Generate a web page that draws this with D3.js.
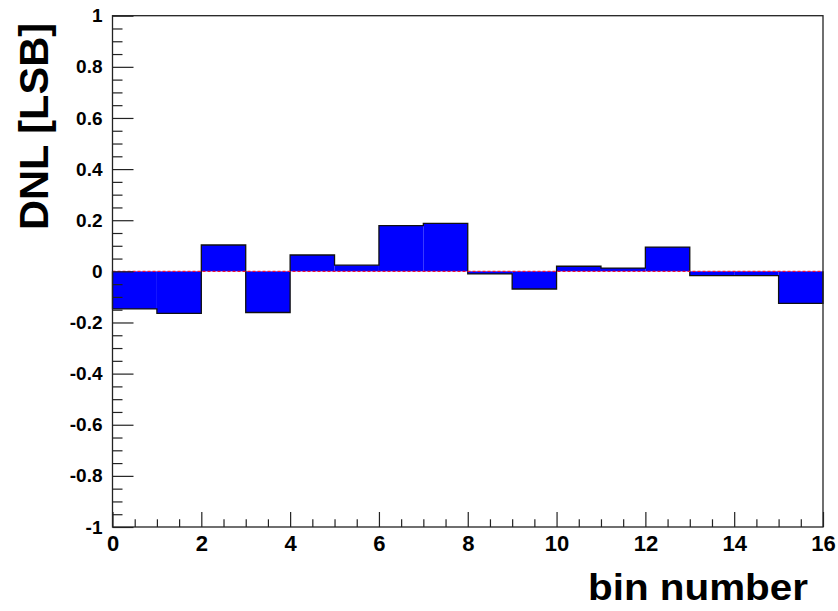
<!DOCTYPE html>
<html>
<head>
<meta charset="utf-8">
<script src="https://cdn.jsdelivr.net/npm/d3@7"></script>
<style>
  body { margin: 0; background: #fff; }
  svg { display: block; font-family: "Liberation Sans", Arial, sans-serif; }
</style>
</head>
<body>
<script>
// histogram bins (bin number) and DNL per bin
var binEdges = [0, 1, 2, 3, 4, 5, 6, 7, 8, 9, 10, 11, 12, 13, 14, 15, 16];
var dnl = [-0.147, -0.164, 0.103, -0.161, 0.064, 0.024, 0.179, 0.188,
           -0.010, -0.069, 0.020, 0.013, 0.095, -0.017, -0.017, -0.125];
var xMajor = [0, 2, 4, 6, 8, 10, 12, 14, 16];
var yMajor = [-1, -0.8, -0.6, -0.4, -0.2, 0, 0.2, 0.4, 0.6, 0.8, 1];
var xLabel = "bin number";
var yLabel = "DNL [LSB]";

var width = 838, height = 611;
var padL = 112.5, padR = 823, padT = 15.7, padB = 527;

var svg = d3.select("body").append("svg")
    .attr("width", width)
    .attr("height", height);

var x = d3.scaleLinear().domain([0, 16]).range([padL, padR]);
var y = d3.scaleLinear().domain([-1, 1]).range([padB, padT]);

var fmt = function(d) {
    var v = +d.toFixed(2);
    return v === 0 ? "0" : String(v);
};

var xMinor = d3.range(0, 16.001, 0.5).filter(function(d) { return d % 2 !== 0; });
var yMinor = d3.range(-1, 1.001, 0.05).map(function(d) { return +d.toFixed(2); })
    .filter(function(d) { return yMajor.indexOf(d) < 0; });

// histogram fill
var bins = dnl.map(function(v, i) {
    return { x0: binEdges[i], x1: binEdges[i + 1], v: v };
});

svg.append("g").selectAll("rect")
    .data(bins)
    .enter()
    .append("rect")
    .attr("x", function(d) { return x(d.x0); })
    .attr("width", function(d) { return x(d.x1) - x(d.x0); })
    .attr("y", function(d) { return y(Math.max(d.v, 0)); })
    .attr("height", function(d) { return Math.abs(y(d.v) - y(0)); })
    .attr("fill", "#0000ff");

// step outline
var pts = [[binEdges[0], 0]];
bins.forEach(function(d) {
    pts.push([d.x0, d.v]);
    pts.push([d.x1, d.v]);
});
pts.push([binEdges[binEdges.length - 1], 0]);

svg.append("path")
    .attr("d", d3.line().x(function(p) { return x(p[0]); }).y(function(p) { return y(p[1]); })(pts))
    .attr("fill", "none")
    .attr("stroke", "#111")
    .attr("stroke-width", 1.3);

// red dashed zero line
svg.append("line")
    .attr("x1", x(0)).attr("x2", x(16))
    .attr("y1", y(0)).attr("y2", y(0))
    .attr("stroke", "#ee1133")
    .attr("stroke-width", 1.2)
    .attr("stroke-dasharray", "3,2");

// axes
var xAxis = svg.append("g")
    .attr("transform", "translate(0," + padB + ")")
    .call(d3.axisBottom(x).tickValues(xMajor).tickFormat(fmt)
        .tickSizeInner(-15).tickSizeOuter(0).tickPadding(8));
var xAxisMinor = svg.append("g")
    .attr("transform", "translate(0," + padB + ")")
    .call(d3.axisBottom(x).tickValues(xMinor).tickFormat("")
        .tickSizeInner(-7.7).tickSizeOuter(0));

var yAxis = svg.append("g")
    .attr("transform", "translate(" + padL + ",0)")
    .call(d3.axisLeft(y).tickValues(yMajor).tickFormat(fmt)
        .tickSizeInner(-21).tickSizeOuter(0).tickPadding(10));
var yAxisMinor = svg.append("g")
    .attr("transform", "translate(" + padL + ",0)")
    .call(d3.axisLeft(y).tickValues(yMinor).tickFormat("")
        .tickSizeInner(-10).tickSizeOuter(0));

[xAxis, xAxisMinor, yAxis, yAxisMinor].forEach(function(g) {
    g.select(".domain").remove();
    g.attr("font-family", null);
    g.selectAll(".tick line").attr("stroke", "#222").attr("stroke-width", 1.2);
});

xAxis.selectAll("text")
    .attr("fill", "#000")
    .style("font-size", "22px")
    .style("font-weight", "bold");
yAxis.selectAll("text")
    .attr("fill", "#000")
    .style("font-size", "19px")
    .style("font-weight", "bold");

// frame
svg.append("rect")
    .attr("x", padL).attr("y", padT)
    .attr("width", padR - padL).attr("height", padB - padT)
    .attr("fill", "none")
    .attr("stroke", "#222")
    .attr("stroke-width", 1.3);

// axis titles
svg.append("text")
    .attr("x", 808)
    .attr("y", 600)
    .attr("text-anchor", "end")
    .attr("textLength", 220)
    .attr("lengthAdjust", "spacingAndGlyphs")
    .style("font-size", "36px")
    .style("font-weight", "bold")
    .text(xLabel);

svg.append("text")
    .attr("transform", "translate(48,23) rotate(-90)")
    .attr("text-anchor", "end")
    .attr("textLength", 207)
    .attr("lengthAdjust", "spacingAndGlyphs")
    .style("font-size", "41px")
    .style("font-weight", "bold")
    .text(yLabel);
</script>
</body>
</html>
